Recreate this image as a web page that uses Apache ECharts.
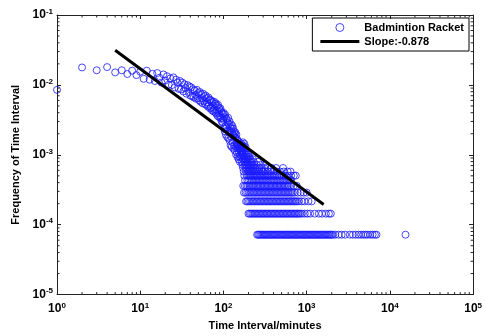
<!DOCTYPE html>
<html>
<head>
<meta charset="utf-8">
<script src="https://cdn.jsdelivr.net/npm/echarts@6/dist/echarts.min.js"></script>
<style>html,body{margin:0;padding:0;background:#fff}#c{width:485px;height:336px}</style>
</head>
<body>
<div id="c"></div>
<script>
// total number of intervals (frequency = count / TOTAL)
const TOTAL = 13900;
// counts for time intervals 1..160 minutes (index 0 -> 1 minute)
const headCounts = [
 118,247,225,250,210,225,199,222,192,215,
 170,222,165,200,158,205,176,150,196,160,
 185,140,172,138,178,128,165,150,122,158,
 120,150,112,142,125,104,138,110,132,98,
 128,96,120,92,116,100,88,118,90,106,
 84,110,80,102,90,76,104,82,96,74,
 98,72,90,78,68,92,70,86,64,84,
 66,82,60,78,70,58,80,62,74,56,
 76,54,70,60,50,72,55,66,48,62,
 50,64,46,58,42,55,47,40,53,44,
 55,33,48,30,52,36,27,46,34,44,
 25,40,31,47,24,38,29,42,22,35,
 30,19,38,25,33,18,29,36,21,27,
 33,17,26,30,19,28,16,25,29,18,
 24,14,27,20,15,23,19,13,22,17,
 20,12,18,15,21,13,17,11,19,14
];
// time intervals (minutes) observed with a given count in the tail
const count21 = [171];
const count20 = [164,178];
const count19 = [162,169];
const count18 = [167,175,184];
const count17 = [163,172,180];
const count16 = [161,170,183];
const count15 = [165,176,190];
const count14 = [168,174,188,199];
const count13 = [163,179,186,196,205];
const count12 = [171,181,193,202,211,226];
const count11 = [166,177,185,195,208,218,232,260];
const count10 = [169,180,189,198,206,214,223,236,251,280,320];
const count9 = [172,184,192,201,210,220,230,240,255,270,290,310,340,380,430,520];
const count8 = [175,187,197,204,213,222,233,245,258,272,288,300,318,345,370,400,440,480,530,590,640];
const count7 = [178,191,200,209,217,225,235,243,252,262,275,284,296,308,322,336,350,365,384,400,420,445,470,500,530,560,600,650,700,740];
const count6 = [182,194,203,212,221,229,238,247,256,266,277,287,299,311,324,337,351,366,381,397,413,431,449,468,487,508,529,551,575,600,630,650];
const count5 = [173,181,189,196,205,213,220,228,237,246,255,264,274,284,295,306,317,329,341,354,367,380,394,409,424,440,456,473,491,509,528,548,568,590,612,650,700,760];
const count4 = [177,185,193,201,209,218,226,234,243,252,262,272,282,293,304,315,327,339,352,365,379,393,408,423,439,455,472,490,508,527,547,567,589,611,634,657,682,720,780,850,920,1000];
const count3 = [187,194,202,210,219,227,236,245,254,264,274,284,295,306,318,330,342,355,368,382,396,411,427,443,459,477,494,513,532,552,573,595,617,640,664,689,715,742,770,810,870,940,1050,1150];
const count2 = [200,207,215,223,231,240,249,258,268,278,288,299,310,322,334,346,359,373,387,401,416,432,448,465,482,500,519,538,559,580,601,624,647,671,697,723,750,778,807,840,880,950,1020,1100,1250,1400,1530,1700,1850,1950];
const count1 = [254,262,270,279,288,297,306,316,326,336,347,358,369,381,393,405,418,431,445,459,474,489,504,520,537,554,571,589,608,627,647,668,689,711,733,757,781,805,831,857,884,912,941,971,1002,1034,1067,1100,1135,1171,1209,1247,1287,1328,1370,1413,1458,1505,1553,1602,1653,1705,1760,1815,1873,1932,1994,2080,2210,2420,2630,2900,3300,3600,3900,4200,4500,4800,5100,5400,5800,6200,6600,6900,15400];
// fitted power-law line endpoints
const fitX = [5, 1600];
const fitY = [0.0313, 0.000195];
const seriesNames = ['Badmintion Racket', 'Slope:-0.878'];

const tailRows = [[1,count1],[2,count2],[3,count3],[4,count4],[5,count5],[6,count6],[7,count7],[8,count8],
  [9,count9],[10,count10],[11,count11],[12,count12],[13,count13],[14,count14],[15,count15],[16,count16],
  [17,count17],[18,count18],[19,count19],[20,count20],[21,count21]];
const scatterData = headCounts.map((c,i)=>[i+1, c/TOTAL]);
tailRows.forEach(([k,xs])=>xs.forEach(x=>scatterData.push([x, k/TOTAL])));
const fitData = fitX.map((x,i)=>[x, fitY[i]]);

// minor tick positions (2..9 x decade)
const minorData = [];
for (let e=0;e<5;e++) for (let m=2;m<10;m++){ minorData.push([m*Math.pow(10,e),1e-5,0]); minorData.push([m*Math.pow(10,e),0.1,1]); }
for (let e=-5;e<-1;e++) for (let m=2;m<10;m++){ minorData.push([1,m*Math.pow(10,e),2]); minorData.push([1e5,m*Math.pow(10,e),3]); }

const FF = '"Liberation Sans", Arial, sans-serif';
const AX = '#222';
const BLUE = '#1a1aff';
function lab(v){ return '{b|10}{e|' + Math.round(Math.log10(v)) + '}'; }
const rich = {
  b:{fontSize:12,fontWeight:'bold',fontFamily:FF,color:'#000'},
  e:{fontSize:8,fontWeight:'bold',fontFamily:FF,color:'#000',verticalAlign:'top',padding:[0,0,7,0]}
};
const chart = echarts.init(document.getElementById('c'), null, {renderer:'canvas'});
chart.setOption({
  animation:false,
  backgroundColor:'#fff',
  grid:{left:57,right:10,top:15,bottom:37},
  legend:{
    orient:'vertical', right:16, top:18,
    data:[
      {name:seriesNames[0], icon:'circle', itemStyle:{color:'rgba(0,0,0,0)', borderColor:BLUE, borderWidth:1}},
      {name:seriesNames[1], icon:'path://M0,0 L39,0 L39,3 L0,3 Z', itemStyle:{color:'#000', borderWidth:0}}
    ],
    borderColor:'#000', borderWidth:1, borderRadius:0, padding:[4,5,4,8], itemGap:3,
    itemWidth:39, itemHeight:8, selectedMode:false,
    textStyle:{fontFamily:FF,fontWeight:'bold',fontSize:11,color:'#000'}
  },
  xAxis:[{
    type:'log', logBase:10, min:1, max:100000, interval:1, gridIndex:0,
    name:'Time Interval/minutes', nameLocation:'middle', nameGap:22,
    nameTextStyle:{fontFamily:FF,fontWeight:'bold',fontSize:11,color:'#000'},
    axisLine:{show:true,lineStyle:{color:AX,width:1}},
    axisTick:{inside:true,length:4,lineStyle:{color:AX}},
    axisLabel:{formatter:lab,rich:rich,margin:7},
    splitLine:{show:false}
  },{
    type:'log', logBase:10, min:1, max:100000, interval:1, position:'top',
    axisLine:{show:true,lineStyle:{color:AX,width:1}},
    axisTick:{inside:true,length:4,lineStyle:{color:AX}},
    axisLabel:{show:false}, splitLine:{show:false}
  }],
  yAxis:[{
    type:'log', logBase:10, min:1e-5, max:0.1, interval:1,
    name:'Frequency of Time Interval', nameLocation:'middle', nameGap:36,
    nameTextStyle:{fontFamily:FF,fontWeight:'bold',fontSize:11,color:'#000'},
    axisLine:{show:true,lineStyle:{color:AX,width:1}},
    axisTick:{inside:true,length:4,lineStyle:{color:AX}},
    axisLabel:{formatter:lab,rich:rich,margin:4},
    splitLine:{show:false}
  },{
    type:'log', logBase:10, min:1e-5, max:0.1, interval:1, position:'right',
    axisLine:{show:true,lineStyle:{color:AX,width:1}},
    axisTick:{inside:true,length:4,lineStyle:{color:AX}},
    axisLabel:{show:false}, splitLine:{show:false}
  }],
  series:[{
    name:seriesNames[0], type:'scatter', data:scatterData, symbol:'circle', symbolSize:7,
    clip:false,
    itemStyle:{color:'rgba(0,0,0,0)', borderColor:BLUE, borderWidth:1},
    z:2
  },{
    name:seriesNames[1], type:'line', data:fitData, showSymbol:false, symbol:'none',
    lineStyle:{color:'#000',width:3}, itemStyle:{color:'#000'}, z:3
  },{
    name:'minorTicks', type:'custom', data:minorData, silent:true, clip:false, z:4,
    encode:{x:0,y:1},
    renderItem:function(params, api){
      const p = api.coord([api.value(0), api.value(1)]);
      const s = api.value(2); const L = 2.5;
      let sh;
      if (s===0) sh={x1:p[0],y1:p[1],x2:p[0],y2:p[1]-L};
      else if (s===1) sh={x1:p[0],y1:p[1],x2:p[0],y2:p[1]+L};
      else if (s===2) sh={x1:p[0],y1:p[1],x2:p[0]+L,y2:p[1]};
      else sh={x1:p[0],y1:p[1],x2:p[0]-L,y2:p[1]};
      return {type:'line', shape:sh, style:{stroke:AX, lineWidth:1}};
    }
  }]
});
</script>
</body>
</html>
